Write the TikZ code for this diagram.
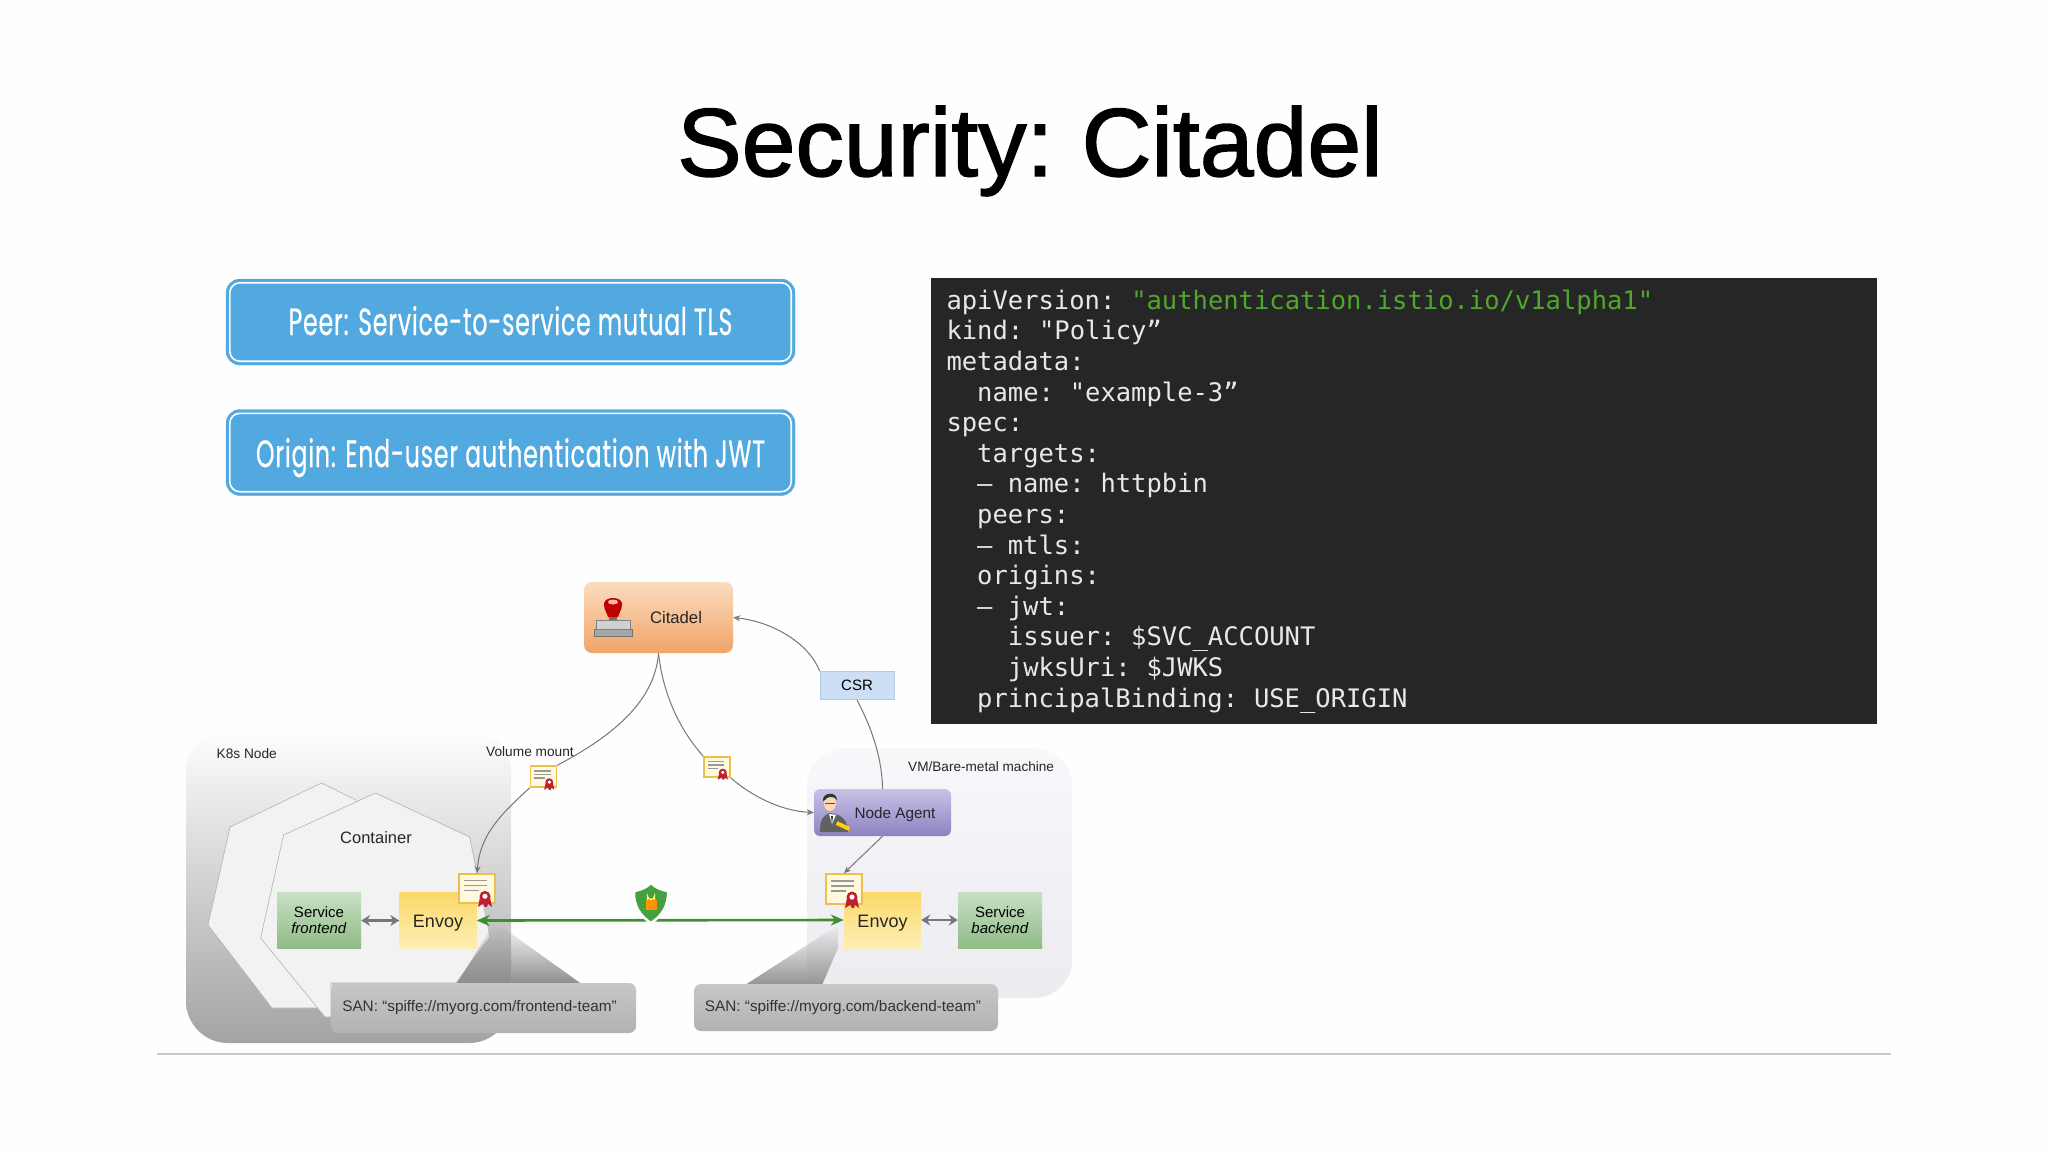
\documentclass[tikz,border=0pt]{standalone}
\usepackage{fontspec}
\setmainfont{Liberation Sans}
\newfontfamily\titlefont[WordSpace=0.72,FakeBold=1.5]{Liberation Sans}
\newfontfamily\btnfont[FakeStretch=0.62,LetterSpace=2.2,FakeBold=0.5]{Poppins}
\newfontfamily\codefont[WordSpace=0.7]{DejaVu Sans Mono}
\usetikzlibrary{arrows.meta,fadings,calc}
\definecolor{pagebg}{HTML}{FEFEFE}
\definecolor{blueb}{HTML}{52A9DF}
\definecolor{codebg}{HTML}{262626}
\definecolor{codefg}{HTML}{E8E8E8}
\definecolor{codegreen}{HTML}{4FA82A}
\definecolor{linkc}{HTML}{777777}
\definecolor{tlsg}{HTML}{3F8F2E}
\definecolor{citt}{HTML}{FBDCC0}\definecolor{citb}{HTML}{F0A468}
\definecolor{agt}{HTML}{C8C2E8}\definecolor{agb}{HTML}{8D82C0}
\definecolor{envt}{HTML}{FBD968}\definecolor{envb}{HTML}{FDEEB5}
\definecolor{svct}{HTML}{C8E0C4}\definecolor{svcb}{HTML}{8FBB85}
\definecolor{csrf}{HTML}{CDDFF5}\definecolor{csrd}{HTML}{B5C8E0}
\definecolor{certd}{HTML}{EBBE4E}\definecolor{certf}{HTML}{FFF9E0}
\definecolor{ribbon}{HTML}{C0202E}
\definecolor{shieldg}{HTML}{44A040}
\definecolor{vmt}{HTML}{F8F8FB}\definecolor{vmb}{HTML}{EBEBF0}
\newcommand{\fs}[1]{\fontsize{#1}{#1}\selectfont}
\newcommand{\dashitem}{–\hspace{4.6pt} }
\tikzset{
  x=1pt,y=-1pt,
  btn/.style={fill=blueb,draw=blueb,rounded corners=14pt,inner sep=0pt,text=white,minimum width=569pt,minimum height=86pt},
  btninner/.style={draw=white,line width=1.6pt,rounded corners=10pt},
  btntext/.style={anchor=base,inner sep=0pt,text=white,font=\btnfont\fs{38}},
  codeln/.style={anchor=base west,inner sep=0pt,text=codefg,font=\codefont\fs{25.5}},
  lbl/.style={inner sep=0pt,text=black!85,font=\fs{13.7}},
  flat/.style={inner sep=0pt,rounded corners=#1},
  flat/.default=0pt,
  citadelbox/.style={flat=8pt,top color=citt,bottom color=citb,minimum width=149pt,minimum height=71pt},
  agentbox/.style={flat=6pt,top color=agt,bottom color=agb,minimum width=137pt,minimum height=47pt},
  envoybox/.style={flat,top color=envt,bottom color=envb,minimum width=77pt,minimum height=56pt},
  svcbox/.style={flat,top color=svct,bottom color=svcb,minimum width=84pt,minimum height=56pt,font=\fs{15},align=center},
  csrbox/.style={flat,fill=csrf,draw=csrd,line width=.8pt,minimum width=74pt,minimum height=28pt,font=\fs{15}},
  sanbox/.style={flat=7pt,top color=black!22,bottom color=black!30},
  santext/.style={inner sep=0pt,font=\fs{15.3},text=black!80},
  conn/.style={draw=linkc,line width=1pt},
  connarrow/.style={conn,-{Stealth[length=7pt,width=6pt]}},
  dbl/.style={draw=linkc,line width=2.6pt,{Stealth[length=9pt,width=11pt]}-{Stealth[length=9pt,width=11pt]}},
  hex/.style={fill=black!5,draw=black!30,line width=.6pt},
  certn/.style={inner sep=0pt,fill=certf,draw=certd,line width=1.6pt}
}
\newcommand{\certif}[5]{% name cx cy w h
  \node[certn,minimum width=#4 pt,minimum height=#5 pt] (#1) at (#2,#3) {};
  \begin{scope}[shift={(#2,#3)},x=#4 pt/36,y=-#5 pt/30]
    \draw[black!40,line width=1.4pt] (-13,-8)--(10,-8) (-13,-3)--(10,-3) (-13,2)--(2,2);
    \fill[ribbon] (3,9)--(1,19)--(6,16)--(8,19)--(10,19)--(11,16)--(15,19)--(13,9)--cycle;
    \fill[ribbon] (8,8) circle[x radius=5.5,y radius=5.5];
    \fill[white] (8,8) circle[x radius=2.6,y radius=2.6];
  \end{scope}
}
\begin{document}
\begin{tikzpicture}
\useasboundingbox (0,0) rectangle (2048,1152);
\fill[pagebg] (0,0) rectangle (2048,1152);
% title
\node[anchor=base,inner sep=0pt,font=\titlefont\fs{96.7}] (title) at (1030,176) {Security: Citadel};
% buttons
\node[btn] (peer) at (510.5,322) {};
\node[btn] (origin) at (510.5,452.5) {};
\draw[btninner] ([shift={(4,4)}]peer.north west) rectangle ([shift={(-4,-4)}]peer.south east);
\draw[btninner] ([shift={(4,4)}]origin.north west) rectangle ([shift={(-4,-4)}]origin.south east);
\node[btntext] (peert) at (510.5,335) {Peer: Service-to-service mutual TLS};
\node[btntext] (origint) at (510.5,467) {Origin: End-user authentication with JWT};
% code
\node[fill=codebg,inner sep=0pt,minimum width=946pt,minimum height=446pt] (code) at (1404,501) {};
\node[codeln] (c1) at (946.3,309.3) {apiVersion: \textcolor{codegreen}{"authentication.istio.io/v1alpha1"}};
\node[codeln] (c2) at (946.3,339.9) {kind: "Policy”};
\node[codeln] (c3) at (946.3,370.5) {metadata:};
\node[codeln] (c4) at (977,401.1) {name: "example-3”};
\node[codeln] (c5) at (946.3,431.7) {spec:};
\node[codeln] (c6) at (977,462.3) {targets:};
\node[codeln] (c7) at (977,492.9) {\dashitem name: httpbin};
\node[codeln] (c8) at (977,523.5) {peers:};
\node[codeln] (c9) at (977,554.1) {\dashitem mtls:};
\node[codeln] (c10) at (977,584.7) {origins:};
\node[codeln] (c11) at (977,615.3) {\dashitem jwt:};
\node[codeln] (c12) at (1007.7,645.9) {issuer: \$SVC\_ACCOUNT};
\node[codeln] (c13) at (1007.7,676.5) {jwksUri: \$JWKS};
\node[codeln] (c14) at (977,707.1) {principalBinding: USE\_ORIGIN};
% bottom rule
\draw[black!22,line width=1.2pt] (157,1054) coordinate (ra) -- (1891,1054) coordinate (rb);
% K8s node
\path[top color=pagebg,bottom color=black!36,rounded corners=42pt] (186,729) rectangle (511,1043);
% VM
\path[top color=vmt,bottom color=vmb,rounded corners=38pt] (807,748) rectangle (1072,998);
% hexagons
\path[hex] (321.5,783)--(230,827)--(208,925)--(272,1008)--(330,1008)--(356,800)--cycle;
\path[hex] (375.6,793)--(283.6,835)--(260.6,938)--(325,1017)--(331,1017)--(331,983)--(456,983)--(490,937)--(469.6,837)--cycle;
% callout wedges
\fill[black!45,path fading=north] (495,922)--(456,985)--(583,985)--cycle;
\fill[black!42,path fading=north] (838,925)--(745,985)--(822,985)--(838,948)--cycle;
% SAN boxes
\node[sanbox,minimum width=305pt,minimum height=50pt] (sanl) at (483.5,1008) {};
\node[santext] (sanlt) at (479.5,1007.5) {SAN: “spiffe://myorg.com/frontend-team”};
\node[sanbox,minimum width=304pt,minimum height=47pt] (sanr) at (846,1007.5) {};
\node[santext] (sanrt) at (843,1007.5) {SAN: “spiffe://myorg.com/backend-team”};
% labels
\node[lbl,anchor=base west] (k8s) at (216.5,758) {K8s Node};
\node[lbl,anchor=base west] (vol) at (486,756) {Volume mount};
\node[lbl,anchor=base,font=\fs{16.5}] (cont) at (376,843) {Container};
\node[lbl,anchor=base west,font=\fs{13.6}] (vm) at (908,771) {VM/Bare-metal machine};
% main boxes
\node[citadelbox] (citadel) at (658.5,617.5) {};
\node[lbl,anchor=base,font=\fs{16.7}] (citadelt) at (676,623) {Citadel};
\node[agentbox] (agent) at (882.5,812.5) {};
\node[lbl,anchor=base,font=\fs{15.3}] (agentt) at (895,818) {Node Agent};
\node[csrbox] (csr) at (857,685.5) {CSR};
\node[svcbox] (svcf) at (319,920.5) {Service\\[1pt]\textit{frontend}};
\node[envoybox] (envoyl) at (438,920.5) {};
\node[lbl,anchor=base,font=\fs{18}] (envoylt) at (438,927.5) {Envoy};
\node[svcbox] (svcb) at (1000,920) {Service\\[1pt]\textit{backend}};
\node[envoybox] (envoyr) at (882.5,920) {};
\node[lbl,anchor=base,font=\fs{18}] (envoyrt) at (882.5,927.5) {Envoy};
% stamp icon
\fill[black!35,draw=black!55,line width=.7pt] (594,629) rectangle (632,636);
\fill[black!18,draw=black!50,line width=.7pt] (596,620) rectangle (630,629);
\fill[black!55] (609,612) rectangle (617,620);
\fill[red!75!black] (604,604) .. controls (604,596) and (622,596) .. (622,604) .. controls (622,610) and (619,613) .. (618,617) -- (608,617) .. controls (607,613) and (604,610) .. (604,604) -- cycle;
\fill[white!70!red] (613,602) ellipse[x radius=5,y radius=2.5];
% person icon
\fill[black!62] (820,832) .. controls (820,818) and (824,815) .. (830,813) -- (838,815) .. controls (845,818) and (848,824) .. (848,832) -- cycle;
\fill[white] (829,814) -- (836,815) -- (832,824) -- cycle;
\fill[black!80] (831,816) -- (833,816) -- (832,824) -- cycle;
\fill[orange!30!white] (830,803) ellipse[x radius=6,y radius=8];
\fill[black!80] (823,801) .. controls (822,792) and (837,791) .. (837,800) -- (835,798) .. controls (831,796) and (827,797) .. (825,800) -- cycle;
\draw[black!70,line width=.9pt] (825,803) -- (835,803);
\fill[yellow!70!orange,rotate around={-25:(843,826)}] (836,824) rectangle (850,828);
% certificates
\certif{certa}{543.5}{776.5}{26}{21}
\certif{certb}{717}{767}{26}{20}
\certif{certl}{477}{888.5}{36}{29}
\certif{certr}{844}{889}{36}{30}
% connectors
\draw[conn] (citadel.south) .. controls (655,700) and (615,735) .. (certa.north east);
\draw[connarrow] (certa.south west) .. controls (500,815) and (480,835) .. (certl.north);
\draw[conn] (citadel.south) .. controls (663,695) and (680,730) .. (certb.north west);
\draw[connarrow] (certb.south east) .. controls (750,795) and (780,811) .. (agent.west);
\draw[conn] (agent.north) .. controls (882,755) and (870,725) .. (csr.south);
\draw[connarrow] (csr.north west) .. controls (810,645) and (775,622) .. (citadel.east);
\draw[connarrow] (agent.south) -- (certr.north);
\draw[dbl] (svcf.east) -- (envoyl.west);
\draw[dbl] (envoyr.east) -- (svcb.west);
\draw[draw=tlsg,line width=2.6pt,{Stealth[length=13pt,width=11pt]}-{Stealth[length=13pt,width=11pt]}] (envoyl.east) -- (envoyr.west);
% shield
\node[inner sep=0pt,minimum size=2pt] (shield) at (651,902) {};
\fill[shieldg,draw=pagebg,line width=2.5pt] (651,883) .. controls (656,888) and (662,890) .. (668,891) .. controls (669,905) and (662,916) .. (651,923) .. controls (640,916) and (633,905) .. (634,891) .. controls (640,890) and (646,888) .. (651,883) -- cycle;
\fill[orange!85!yellow] (645.5,900) rectangle (656.5,910);
\draw[yellow!50!white,line width=1.3pt] (647.5,900) -- (647.5,896) arc[start angle=180,end angle=0,radius=3.5] -- (654.5,900);
\end{tikzpicture}
\end{document}
